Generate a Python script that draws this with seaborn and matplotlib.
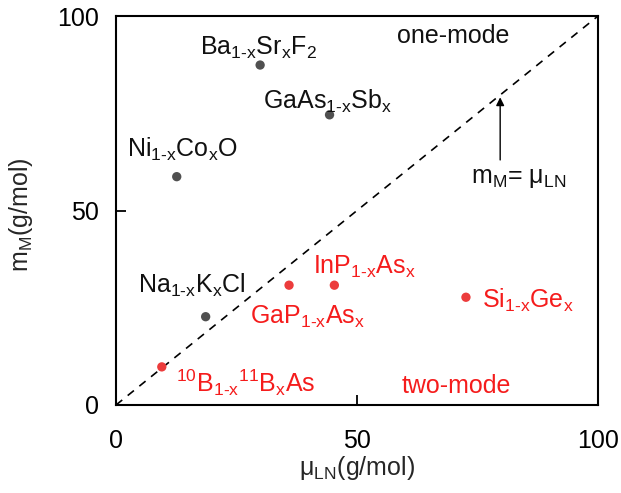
import matplotlib
matplotlib.use("Agg")
import matplotlib.pyplot as plt
import seaborn as sns
import pandas as pd

# alloy data (g/mol)
names = ["Ba1-xSrxF2", "GaAs1-xSbx", "Ni1-xCoxO", "Na1-xKxCl",
         "GaP1-xAsx", "InP1-xAsx", "Si1-xGex", "10B1-x11BxAs"]
mu_ln = [29.9, 44.3, 12.6, 18.6, 35.9, 45.3, 72.6, 9.5]
m_m = [87.4, 74.6, 58.7, 22.7, 30.8, 30.8, 27.7, 9.8]
mode = ["one", "one", "one", "one", "two", "two", "two", "two"]

S = r"$_{\text{%s}}$"
labels = {
    "Ba1-xSrxF2": "Ba" + S % "1-x" + "Sr" + S % "x" + "F" + S % "2",
    "GaAs1-xSbx": "GaAs" + S % "1-x" + "Sb" + S % "x",
    "Ni1-xCoxO": "Ni" + S % "1-x" + "Co" + S % "x" + "O",
    "Na1-xKxCl": "Na" + S % "1-x" + "K" + S % "x" + "Cl",
    "GaP1-xAsx": "GaP" + S % "1-x" + "As" + S % "x",
    "InP1-xAsx": "InP" + S % "1-x" + "As" + S % "x",
    "Si1-xGex": "Si" + S % "1-x" + "Ge" + S % "x",
    "10B1-x11BxAs": r"$^{\text{10}}$B" + S % "1-x" + r"$^{\text{11}}$B" + S % "x" + "As",
}

# label anchors (left, baseline) in data units
label_pos = {
    "Ba1-xSrxF2": (17.4, 90.0),
    "GaAs1-xSbx": (30.5, 76.1),
    "Ni1-xCoxO": (2.3, 63.8),
    "Na1-xKxCl": (4.6, 28.8),
    "GaP1-xAsx": (27.7, 20.8),
    "InP1-xAsx": (40.8, 33.7),
    "Si1-xGex": (75.9, 24.9),
    "10B1-x11BxAs": (12.4, 3.4),
}

dot_colors = {"one": "#505050", "two": "#ec3c3c"}
text_colors = {"one": "#111111", "two": "#f51c1c"}

sns.set_style("ticks")
plt.rcParams["font.family"] = ["Liberation Sans", "DejaVu Sans"]
plt.rcParams["mathtext.fontset"] = "custom"
plt.rcParams["mathtext.rm"] = "Liberation Sans"
plt.rcParams["mathtext.it"] = "Liberation Sans"
fs = 18

df = pd.DataFrame({"name": names, "mu": mu_ln, "m": m_m, "mode": mode})

fig = plt.figure(figsize=(6.21, 4.93), dpi=100)
ax = fig.add_axes([0.1868, 0.1785, 0.7762, 0.789])

ax.axline((0, 0), slope=1, color="black", lw=1.2, dashes=(4.8, 4.2), zorder=1)
sns.scatterplot(data=df, x="mu", y="m", hue="mode", palette=dot_colors,
                s=45, edgecolor="none", legend=False, ax=ax, zorder=3)

for n, md in zip(names, mode):
    lx, ly = label_pos[n]
    ax.text(lx, ly, labels[n], fontsize=fs, color=text_colors[md],
            ha="left", va="baseline")

ax.text(58.3, 93.1, "one-mode", fontsize=fs, color="#111111", ha="left", va="baseline")
ax.text(59.3, 3.1, "two-mode", fontsize=fs, color="#f51c1c", ha="left", va="baseline")

# arrow pointing at the m_M = mu_LN line
arrow_x, arrow_tail = 79.7, 63.0
ax.annotate("", xy=(arrow_x, arrow_x - 0.6), xytext=(arrow_x, arrow_tail),
            arrowprops=dict(arrowstyle="-|>", color="black", lw=1.0,
                            mutation_scale=12, shrinkA=0, shrinkB=0))
ax.text(73.7, 57.1, r"m$_{\text{M}}$= μ$_{\text{LN}}$", fontsize=fs,
        color="#111111", ha="left", va="baseline")

ax.set_xlim(0, 100)
ax.set_ylim(0, 100)
ax.set_xticks([0, 50, 100])
ax.set_yticks([0, 50, 100])
ax.tick_params(direction="in", length=7, width=1.3, labelsize=fs, colors="black")
ax.tick_params(axis="x", pad=17)
ax.tick_params(axis="y", pad=12)
for sp in ax.spines.values():
    sp.set_visible(True)
    sp.set_linewidth(1.5)
    sp.set_color("black")

ax.set_xlabel(r"μ$_{\text{LN}}$(g/mol)", fontsize=fs)
ax.set_ylabel(r"m$_{\text{M}}$(g/mol)", fontsize=fs)
ax.xaxis.set_label_coords(0.5, -0.163)
ax.xaxis.label.set_verticalalignment("center")
ax.yaxis.set_label_coords(-0.197, 0.49)
ax.yaxis.label.set_verticalalignment("center")

fig.savefig("out.png", dpi=100)
